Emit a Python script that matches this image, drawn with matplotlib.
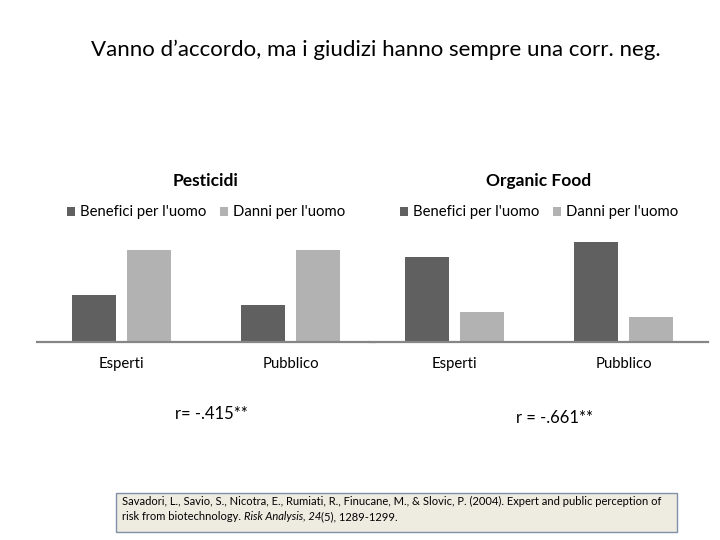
import numpy as np
import matplotlib
matplotlib.use('Agg')
import matplotlib.pyplot as plt
from matplotlib.patches import Rectangle

plt.rcParams['font.family'] = ['Lato', 'DejaVu Sans']

# data (arbitrary units, no y axis shown)
groups = ['Esperti', 'Pubblico']
series = ["Benefici per l'uomo", "Danni per l'uomo"]
pesticidi_benefici = [2.58, 2.03]
pesticidi_danni = [5.03, 5.03]
organic_benefici = [4.64, 5.49]
organic_danni = [1.65, 1.40]
panel_titles = ['Pesticidi', 'Organic Food']
correlations = ['r= -.415**', 'r = -.661**']

dark = '#606060'
light = '#b2b2b2'

W, H = 720, 540
fig = plt.figure(figsize=(7.2, 5.4), dpi=100)


def px_axes(x0, x1, ytop, ybot):
    return fig.add_axes([x0 / W, 1 - ybot / H, (x1 - x0) / W, (ybot - ytop) / H])


def draw_panel(ax, title, benefici, danni):
    x = np.arange(len(groups))
    w = 0.26
    off = 0.165
    ax.bar(x - off, benefici, w, color=dark, label=series[0])
    ax.bar(x + off, danni, w, color=light, label=series[1])
    ax.set_xlim(-0.5, 1.5)
    ax.set_ylim(0, 5.6)
    ax.set_xticks(x)
    ax.set_xticklabels(groups, fontsize=10.7)
    ax.tick_params(axis='x', length=0, pad=11)
    ax.set_yticks([])
    for s in ['top', 'left', 'right']:
        ax.spines[s].set_visible(False)
    ax.spines['bottom'].set_color('#868686')
    ax.spines['bottom'].set_linewidth(1.6)
    ax.text(0.5, 1.58, title, transform=ax.transAxes, ha='center', va='center',
            fontsize=12.5, fontweight='bold')
    ax.legend(loc='center', bbox_to_anchor=(0.5, 1.27), ncol=2, frameon=False,
              fontsize=10.7, handlelength=0.55, handleheight=0.55, handletextpad=0.35,
              columnspacing=0.9)


ax1 = px_axes(37, 375, 240, 342)
ax2 = px_axes(370, 708, 240, 342)
draw_panel(ax1, panel_titles[0], pesticidi_benefici, pesticidi_danni)
draw_panel(ax2, panel_titles[1], organic_benefici, organic_danni)

fig.text(376 / W, 1 - 50 / H, 'Vanno d\u2019accordo, ma i giudizi hanno sempre una corr. neg.',
         ha='center', va='center', fontsize=16)

fig.text(211 / W, 1 - 414 / H, correlations[0], ha='center', va='center', fontsize=12)
fig.text(555 / W, 1 - 418 / H, correlations[1], ha='center', va='center', fontsize=12)

# citation box
fig.patches.append(Rectangle((116 / W, 1 - 532 / H), (677 - 116) / W, (532 - 493) / H,
                             transform=fig.transFigure, facecolor='#eeece1',
                             edgecolor='#8090a8', linewidth=1))
cfs = 8
fig.text(122 / W, 1 - 505 / H,
         'Savadori, L., Savio, S., Nicotra, E., Rumiati, R., Finucane, M., & Slovic, P. (2004). '
         'Expert and public perception of', ha='left', va='baseline', fontsize=cfs)
pieces = [('risk from biotechnology. ', 'normal'), ('Risk Analysis, 24', 'italic'),
          ('(5), 1289-1299.', 'normal')]
fig.canvas.draw()
r = fig.canvas.get_renderer()
xpos = 122
for txt, st in pieces:
    t = fig.text(xpos / W, 1 - 520 / H, txt, ha='left', va='baseline', fontsize=cfs, style=st)
    bb = t.get_window_extent(r)
    xpos = bb.x1

fig.savefig('out.png', dpi=100)
